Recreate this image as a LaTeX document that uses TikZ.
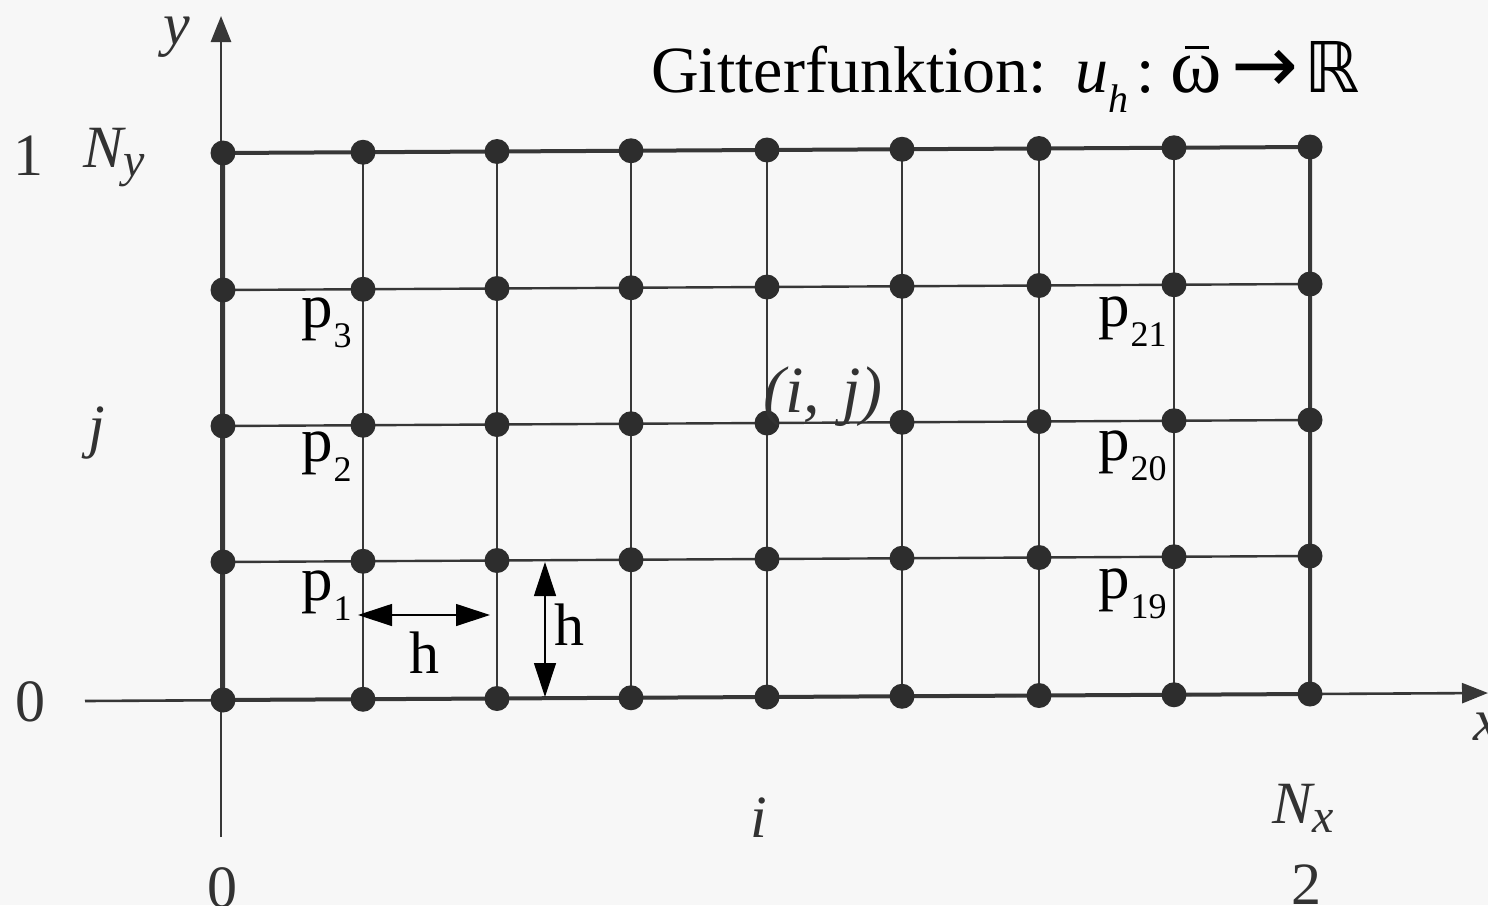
\documentclass[tikz,border=0pt]{standalone}
\usepackage{fontspec}
\setmainfont{Liberation Serif}
\newfontfamily\dejavu{DejaVu Sans}
\usetikzlibrary{arrows.meta}
\definecolor{paper}{RGB}{247,247,247}
\definecolor{linegray}{RGB}{55,55,55}
\definecolor{dotgray}{RGB}{45,45,45}
\definecolor{labgray}{RGB}{50,50,50}
\tikzset{
 gridline/.style={draw=linegray,line width=2.4pt},
 border/.style={draw=linegray,line width=4pt,line join=miter},
 axisline/.style={draw=linegray,line width=2.6pt,-{Triangle[length=26pt,width=20pt]}},
 dimarrow/.style={draw=black,line width=1.2pt,{Triangle[length=34pt,width=22pt]}-{Triangle[length=34pt,width=22pt]}},
 dot/.style={circle,fill=dotgray,inner sep=0pt,minimum size=25pt},
 axlab/.style={text=labgray,inner sep=0pt,font=\fontsize{60}{64}\selectfont\itshape},
 axnum/.style={text=labgray,inner sep=0pt,font=\fontsize{60}{64}\selectfont},
 plab/.style={text=black,inner sep=0pt,anchor=base west,font=\fontsize{63}{66}\selectfont},
 hlab/.style={text=black,inner sep=0pt,anchor=base,font=\fontsize{60}{64}\selectfont},
}
\newcommand\psb[1]{p\hspace{1pt}\raisebox{-20pt}{\fontsize{36}{36}\selectfont #1}}
\newcommand\axsub[1]{\raisebox{-9pt}{\fontsize{48}{48}\selectfont #1}}
\newcommand\omegabar{{\fontsize{78}{78}\selectfont\makebox[0pt][l]{\hspace{15pt}\raisebox{43pt}{\rule{24pt}{3pt}}}ω}}
\begin{document}
\begin{tikzpicture}[x=1pt,y=-1pt]
\useasboundingbox (0,0) rectangle (1488,905);
\fill[paper] (0,0) rectangle (1488,905);
% grid coordinates
\foreach \x [count=\i from 0] in {223,363,497,631,767,902,1039,1174,1310}{
  \foreach \y [count=\j from 0] in {700,562,426,290,153}{
    \coordinate (c\i-\j) at ({\x},{\y-0.75*\i});
  }
}
% axes
\coordinate (xs) at (85,701);
\coordinate (xe) at (1488,693);
\coordinate (ys) at (221,837);
\coordinate (ye) at (221,16);
\draw[axisline] (xs) -- (xe);
\draw[axisline] (ys) -- (ye);
% interior grid lines
\foreach \j in {1,2,3} \draw[gridline] (c0-\j) -- (c8-\j);
\foreach \i in {1,...,7} \draw[gridline] (c\i-0) -- (c\i-4);
% boundary
\draw[border] (c0-0) -- (c8-0) -- (c8-4) -- (c0-4) -- cycle;
% dots
\foreach \i in {0,...,8}{
  \foreach \j in {0,...,4}{
    \node[dot] (d\i-\j) at (c\i-\j) {};
  }
}
% h dimension arrows
\coordinate (hl) at (358,615);
\coordinate (hr) at (490,615);
\coordinate (vt) at (545,562);
\coordinate (vb) at (545,697);
\draw[dimarrow] (hl) -- (hr);
\draw[dimarrow] (vt) -- (vb);
\node[hlab] (h1) at (424,673) {h};
\node[hlab] (h2) at (569,645) {h};
% point labels
\node[plab] (p3) at (301,327) {\psb{3}};
\node[plab] (p2) at (301,461) {\psb{2}};
\node[plab] (p1) at (301,600) {\psb{1}};
\node[plab] (p21) at (1098,326) {\psb{21}};
\node[plab] (p20) at (1098,460) {\psb{20}};
\node[plab] (p19) at (1098,598) {\psb{19}};
\node[inner sep=0pt,anchor=base west,font=\fontsize{66}{68}\selectfont\itshape,text=labgray] (ij) at (763,412) {(i,\kern22pt j)};
% axis labels
\node[axlab] (ylab) at (177,37) {y};
\node[axlab,anchor=base east] (xlab) at (1500,740) {x};
\node[axnum,anchor=base] (one) at (28,175) {1};
\node[axlab,anchor=base west] (ny) at (83,167) {N\axsub{y}};
\node[axlab] (jlab) at (97,433) {j};
\node[axnum] (zl) at (31,702) {0};
\node[axnum,anchor=north] (zb) at (222,867) {0};
\node[axlab] (ilab) at (759,818) {i};
\node[axlab,anchor=base west] (nx) at (1272,823) {N\axsub{x}};
\node[axnum,anchor=north] (two) at (1306,865) {2};
% title
\node[inner sep=0pt,anchor=base west,font=\fontsize{66}{70}\selectfont] (title) at (651,92)
 {Gitterfunktion:\hspace{28pt}\textit{u}\raisebox{-20pt}{\fontsize{40}{40}\selectfont\textit{h}}\hspace{8pt}:\hspace{16pt}\omegabar\hspace{10pt}{\dejavu\fontsize{80}{80}\selectfont →}\hspace{6pt}{\dejavu\fontsize{70}{70}\selectfont ℝ}};
\end{tikzpicture}
\end{document}
